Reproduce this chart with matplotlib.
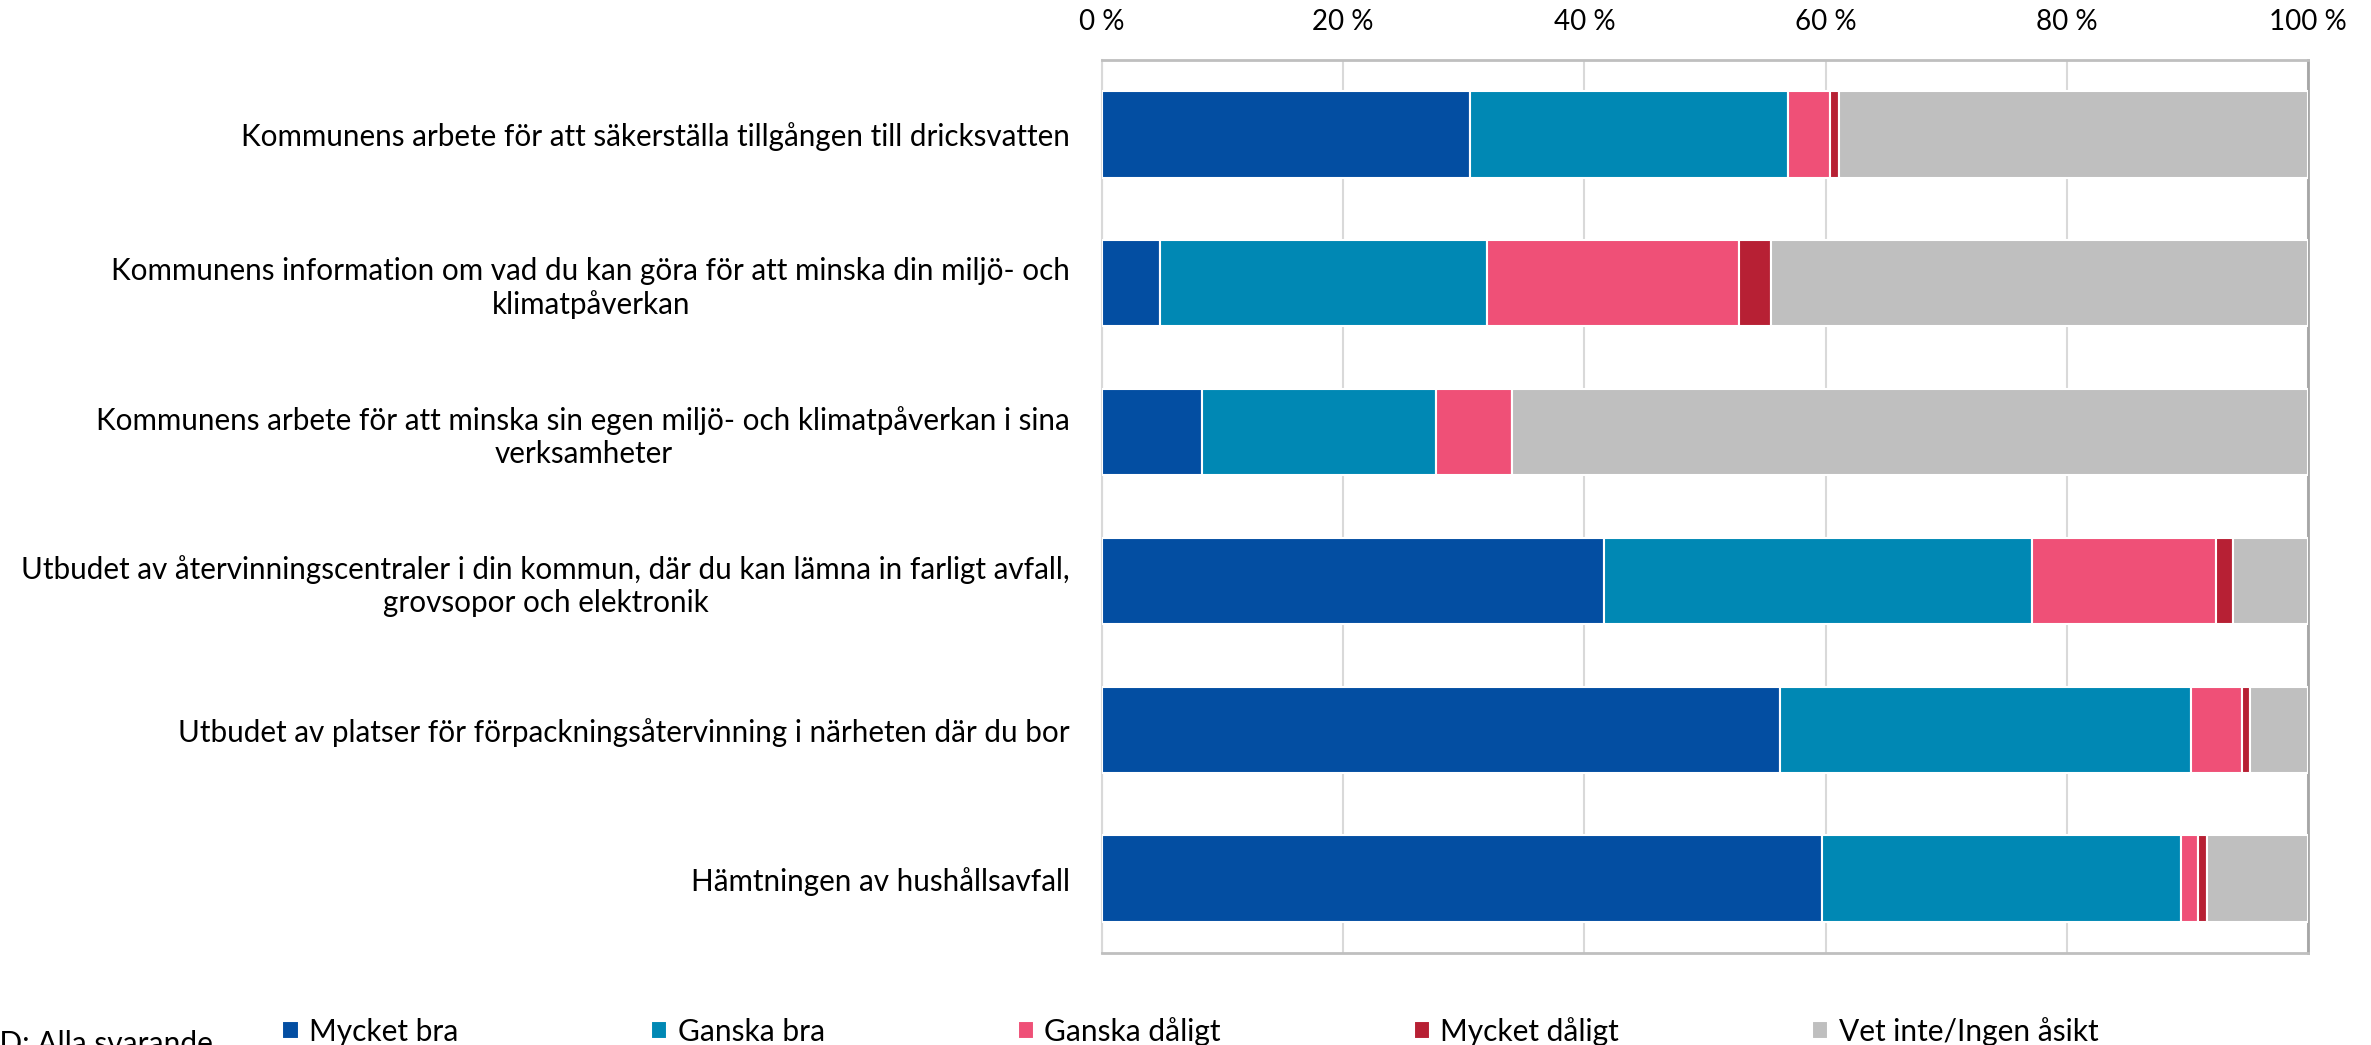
import matplotlib.pyplot as plt
import numpy as np

plt.rcParams["font.family"] = ["Lato", "DejaVu Sans"]

categories = [
    "Kommunens arbete för att säkerställa tillgången till dricksvatten",
    "Kommunens information om vad du kan göra för att minska din miljö- och\nklimatpåverkan",
    "Kommunens arbete för att minska sin egen miljö- och klimatpåverkan i sina\nverksamheter",
    "Utbudet av återvinningscentraler i din kommun, där du kan lämna in farligt avfall,\ngrovsopor och elektronik",
    "Utbudet av platser för förpackningsåtervinning i närheten där du bor",
    "Hämtningen av hushållsavfall",
]

series_names = ["Mycket bra", "Ganska bra", "Ganska dåligt", "Mycket dåligt", "Vet inte/Ingen åsikt"]
mycket_bra = [30.5, 4.8, 8.3, 41.6, 56.2, 59.7]
ganska_bra = [26.4, 27.1, 19.4, 35.5, 34.1, 29.8]
ganska_daligt = [3.5, 20.9, 6.3, 15.3, 4.2, 1.4]
mycket_daligt = [0.7, 2.7, 0.0, 1.4, 0.7, 0.7]
vet_inte = [38.9, 44.5, 66.0, 6.2, 4.8, 8.4]
colors = ["#034EA2", "#0088B4", "#EF5077", "#B72034", "#BFBFBF"]

fig = plt.figure(figsize=(23.71, 10.45), dpi=100)
ax = fig.add_axes([0.4648, 0.088, 0.5086, 0.8545])

y = np.arange(len(categories))
left = np.zeros(len(categories))
for name, vals, col in zip(series_names,
                           [mycket_bra, ganska_bra, ganska_daligt, mycket_daligt, vet_inte],
                           colors):
    vals = np.array(vals)
    ax.barh(y, vals, left=left, height=0.58, color=col, edgecolor="white",
            linewidth=1.5, label=name, zorder=3)
    left += vals

ax.set_xlim(0, 100)
ax.set_ylim(len(categories) - 0.5, -0.5)
ax.set_yticks(y)
ax.set_yticklabels(categories, fontsize=21.3, ha="right", multialignment="center")
ax.tick_params(axis="y", length=0, pad=23)
ax.set_xticks(np.arange(0, 101, 20))
ax.set_xticklabels([f"{v} %" for v in range(0, 101, 20)], fontsize=20)
ax.xaxis.tick_top()
ax.tick_params(axis="x", length=0, pad=18)
ax.grid(axis="x", color="#D9D9D9", linewidth=1.5, zorder=0)
for side in ["top", "bottom"]:
    ax.spines[side].set_color("#BFBFBF")
    ax.spines[side].set_linewidth(2)
ax.spines["right"].set_color("#A6A6A6")
ax.spines["right"].set_linewidth(2)
ax.spines["left"].set_color("#D9D9D9")
ax.spines["left"].set_linewidth(1.5)

fig.legend(loc="center left", bbox_to_anchor=(0.1127, 0.013), ncol=5, frameon=False,
           fontsize=21.5, handlelength=0.55, handleheight=0.55, handletextpad=0.35,
           columnspacing=6.45, borderpad=0)

fig.text(-0.004, 0.0144, "ID: Alla svarande", fontsize=21.5, va="top", ha="left")

fig.savefig("out.png", dpi=100, facecolor="white")
plt.close()
